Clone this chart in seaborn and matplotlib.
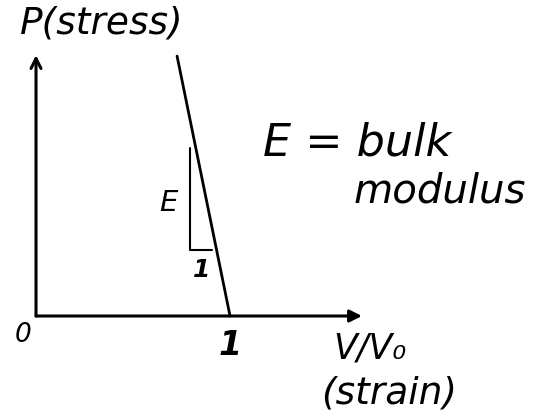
"""Hand-drawn style sketch of stress vs. volumetric strain (bulk modulus)."""

import pandas as pd
import seaborn as sns
import matplotlib.pyplot as plt

# Stress-strain line (x = V/V0, y = P)
strain = [0.727, 1.0]
stress = [1.34, 0.0]

# Slope triangle vertices (vertical leg, then horizontal leg)
tri_x = [0.794, 0.794, 0.907]
tri_y = [0.866, 0.340, 0.340]

# Axis extents
x_axis_end = 1.68
y_axis_end = 1.345

# Labels
y_label = 'P(stress)'
x_label = 'V/V₀'
x_label2 = '(strain)'
note_lines = ['E = bulk', 'modulus']


def main():
    sns.set_style('white')
    plt.rcParams['font.family'] = ['DejaVu Sans']

    fig = plt.figure(figsize=(5.43, 4.11), dpi=100)
    ax = fig.add_axes([0, 0, 1, 1])
    ax.set_xlim(-0.1856, 2.613)
    ax.set_ylim(-0.4897, 1.629)
    ax.axis('off')

    df = pd.DataFrame({'strain': strain, 'stress': stress})
    sns.lineplot(data=df, x='strain', y='stress', ax=ax,
                 color='black', linewidth=2.0, sort=False)

    ax.plot(tri_x, tri_y, color='black', linewidth=1.5)

    # axes with arrow heads
    ax.annotate('', xy=(x_axis_end, 0), xytext=(0, 0),
                arrowprops=dict(arrowstyle='-|>', color='black', lw=2.2,
                                mutation_scale=18, shrinkA=0, shrinkB=0))
    ax.annotate('', xy=(0, y_axis_end), xytext=(0, 0),
                arrowprops=dict(arrowstyle='->', color='black', lw=2.2,
                                mutation_scale=18, shrinkA=0, shrinkB=0))

    txt = dict(color='black', style='italic', ha='center', va='center')
    ax.text(0.34, 1.51, y_label, fontsize=27, **txt)
    ax.text(-0.067, -0.10, '0', fontsize=19, **txt)
    ax.text(1.0, -0.15, '1', fontsize=24, fontweight='bold', **txt)
    ax.text(0.68, 0.585, 'E', fontsize=21, **txt)
    ax.text(0.855, 0.235, '1', fontsize=18, fontweight='bold', **txt)
    ax.text(1.72, -0.17, x_label, fontsize=25, **txt)
    ax.text(1.82, -0.40, x_label2, fontsize=27, **txt)
    ax.text(1.655, 0.89, note_lines[0], fontsize=32, **txt)
    ax.text(2.08, 0.645, note_lines[1], fontsize=29, **txt)

    fig.savefig('out.png', dpi=100, facecolor='white')
    plt.close(fig)


if __name__ == '__main__':
    main()
